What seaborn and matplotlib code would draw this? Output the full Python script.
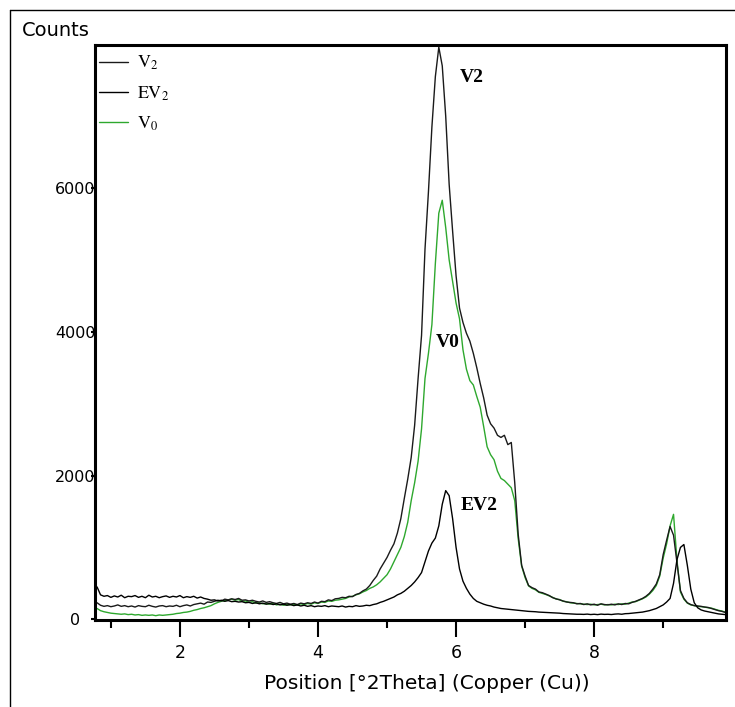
import numpy as np
import matplotlib.pyplot as plt
import seaborn as sns
from matplotlib.lines import Line2D

# scan positions (deg 2theta), step 0.05
theta = np.round(np.arange(0.80, 9.901, 0.05), 2)

v2 = [
    230, 195, 180, 190, 175, 185, 200, 180, 190, 175,
    185, 170, 190, 180, 175, 195, 180, 170, 185, 190,
    175, 185, 180, 195, 175, 190, 200, 185, 205, 215,
    225, 210, 240, 235, 250, 265, 255, 280, 270, 285,
    275, 290, 265, 270, 255, 265, 250, 240, 255, 235,
    245, 230, 220, 235, 215, 225, 210, 220, 205, 225,
    215, 230, 220, 240, 225, 250, 245, 270, 260, 285,
    290, 305, 300, 320, 315, 345, 360, 395, 420, 470,
    540, 600, 700, 780, 860, 960, 1050, 1200, 1400, 1680,
    1950, 2250, 2700, 3350, 3950, 5150, 5950, 6850, 7550, 7960,
    7700, 7000, 6050, 5400, 4780, 4330, 4130, 3980, 3870, 3700,
    3500, 3280, 3080, 2840, 2720, 2660, 2560, 2530, 2560, 2430,
    2460, 1900, 1180, 750, 600, 470, 440, 420, 380, 370,
    350, 330, 300, 285, 270, 255, 240, 235, 230, 215,
    220, 205, 215, 200, 210, 195, 215, 205, 200, 210,
    200, 215, 205, 220, 215, 235, 250, 270, 290, 320,
    360, 420, 490, 620, 900, 1100, 1290, 1170, 780, 400,
    290, 230, 205, 190, 185, 180, 170, 165, 150, 135,
    120, 110, 95,
]

v0 = [
    150, 120, 105, 95, 85, 80, 75, 70, 75, 65,
    70, 60, 65, 55, 60, 55, 60, 50, 60, 55,
    60, 65, 70, 80, 85, 95, 100, 110, 125, 135,
    150, 160, 175, 190, 215, 235, 250, 260, 270, 280,
    265, 275, 250, 255, 235, 245, 225, 230, 215, 220,
    210, 220, 200, 210, 195, 205, 200, 210, 195, 215,
    205, 220, 210, 230, 220, 240, 235, 255, 250, 265,
    270, 280, 290, 310, 320, 340, 355, 380, 400, 430,
    450, 480, 520, 570, 620, 700, 800, 900, 1000, 1150,
    1350, 1650, 1900, 2200, 2650, 3350, 3700, 4100, 4950, 5650,
    5830, 5450, 5000, 4700, 4400, 4180, 3750, 3480, 3320, 3260,
    3100, 2950, 2680, 2400, 2290, 2220, 2060, 1960, 1930, 1880,
    1830, 1650, 1120, 740, 580, 465, 430, 410, 375, 360,
    345, 325, 305, 280, 275, 250, 245, 230, 225, 220,
    215, 210, 205, 210, 200, 205, 210, 200, 205, 200,
    210, 205, 215, 210, 225, 240, 245, 265, 285, 310,
    350, 400, 470, 600, 850, 1050, 1300, 1460, 820, 380,
    280, 225, 200, 190, 180, 175, 170, 160, 155, 140,
    125, 115, 100,
]

ev2 = [
    450, 340, 320, 330, 305, 325, 310, 335, 300, 320,
    315, 330, 305, 320, 300, 335, 310, 320, 300, 315,
    325, 305, 320, 310, 330, 300, 315, 305, 320, 295,
    310, 290, 280, 265, 270, 255, 265, 250, 260, 245,
    250, 240, 245, 230, 235, 220, 230, 215, 225, 210,
    220, 205, 215, 200, 210, 195, 205, 190, 200, 185,
    195, 180, 190, 175, 185, 180, 190, 175, 185, 180,
    175, 185, 170, 180, 175, 190, 180, 185, 195, 190,
    205, 215, 235, 250, 270, 290, 310, 340, 360, 390,
    430, 470, 520, 580, 650, 800, 950, 1060, 1130, 1300,
    1600, 1790, 1720, 1400, 1000, 700, 530, 430, 350, 290,
    250, 230, 210, 195, 185, 170, 160, 150, 145, 140,
    135, 130, 125, 120, 115, 110, 108, 105, 100, 98,
    95, 92, 90, 88, 85, 80, 78, 75, 72, 70,
    70, 68, 72, 66, 70, 65, 72, 68, 70, 66,
    72, 75, 70, 78, 80, 85, 90, 95, 100, 110,
    120, 135, 150, 175, 200, 240, 290, 500, 830, 1000,
    1040, 750, 420, 230, 160, 130, 115, 105, 95, 85,
    75, 70, 65,
]

sns.set_style("ticks")
plt.rcParams["font.family"] = ["DejaVu Sans"]
plt.rcParams["mathtext.fontset"] = "stix"
plt.rcParams["text.color"] = "black"
plt.rcParams["axes.labelcolor"] = "black"
plt.rcParams["xtick.color"] = "black"
plt.rcParams["ytick.color"] = "black"

fig = plt.figure(figsize=(7.35, 7.07), dpi=100)
ax = fig.add_axes([95 / 735, 1 - 620 / 707, 631 / 735, 575 / 707])

series = [
    ("V0", v0, "#2ea82e", r"$\mathrm{V}_0$"),
    ("V2", v2, "#1a1a1a", r"$\mathrm{V}_2$"),
    ("EV2", ev2, "black", r"$\mathrm{EV}_2$"),
]
for name, vals, col, lab in series:
    sns.lineplot(x=theta, y=vals, ax=ax, color=col, lw=1.0,
                 estimator=None, label=lab)

handles, labels = ax.get_legend_handles_labels()
order = [1, 2, 0]
ax.legend([handles[i] for i in order], [labels[i] for i in order],
          loc="upper left", bbox_to_anchor=(-0.008, 1.0), frameon=False,
          fontsize=13, handlelength=1.6, handletextpad=0.5, labelspacing=0.65,
          borderaxespad=0.0, borderpad=0.5)

ax.set_xlim(0.77, 9.91)
ax.set_ylim(-10, 7990)
ax.set_xticks([2, 4, 6, 8])
ax.set_xticks([1, 3, 5, 7, 9], minor=True)
ax.set_yticks([0, 2000, 4000, 6000])
ax.tick_params(axis="x", which="major", length=12, width=1.5, labelsize=12.5, pad=5)
ax.tick_params(axis="x", which="minor", length=6, width=1.5)
ax.tick_params(axis="y", length=3, width=1.5, labelsize=11.5, pad=11)
for lbl in ax.get_yticklabels():
    lbl.set_horizontalalignment("center")
for sp in ax.spines.values():
    sp.set_linewidth(2.2)
    sp.set_color("black")

ax.set_xlabel("Position [°2Theta] (Copper (Cu))", fontsize=14.5, labelpad=9)
ax.xaxis.label.set_x(332 / 631)
ax.set_ylabel("")
fig.text(22 / 735, 1 - 30 / 707, "Counts", fontsize=14, va="center", ha="left")

peak_font = dict(fontfamily="Liberation Serif", fontweight="bold", fontsize=14, va="center")
ax.text(6.06, 7540, "V2", **peak_font)
ax.text(5.70, 3850, "V0", **peak_font)
ax.text(6.06, 1580, "EV2", **peak_font)

# outer frame (left and top edges only)
fig.add_artist(Line2D([10 / 735, 10 / 735], [0, 1 - 10 / 707], transform=fig.transFigure, color="black", lw=1))
fig.add_artist(Line2D([10 / 735, 1], [1 - 10 / 707, 1 - 10 / 707], transform=fig.transFigure, color="black", lw=1))

fig.savefig("out.png", dpi=100)
